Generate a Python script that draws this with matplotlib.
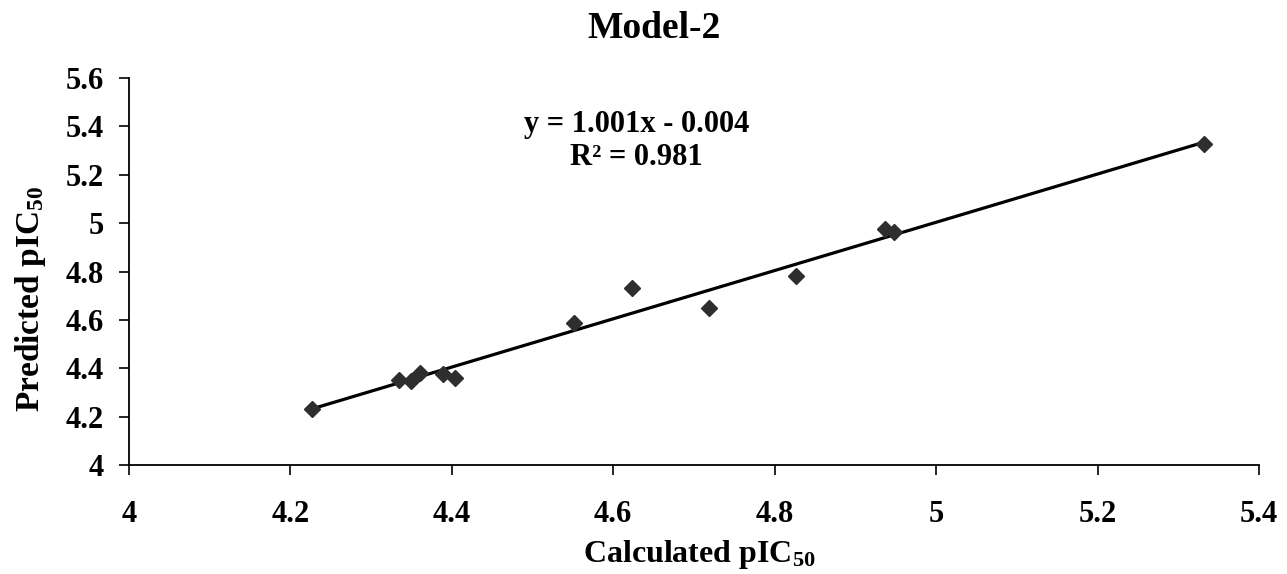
import numpy as np
import matplotlib
matplotlib.use('Agg')
import matplotlib.pyplot as plt

# values
calculated = [4.227, 4.334, 4.350, 4.360, 4.389, 4.404, 4.552, 4.623, 4.719, 4.826, 4.937, 4.948, 5.332]
predicted = [4.230, 4.351, 4.348, 4.379, 4.376, 4.358, 4.588, 4.733, 4.648, 4.783, 4.974, 4.962, 5.327]
x_ticks = [4, 4.2, 4.4, 4.6, 4.8, 5, 5.2, 5.4]
y_ticks = [4, 4.2, 4.4, 4.6, 4.8, 5, 5.2, 5.4, 5.6]
x_ticklabels = ['4', '4.2', '4.4', '4.6', '4.8', '5', '5.2', '5.4']
y_ticklabels = ['4', '4.2', '4.4', '4.6', '4.8', '5', '5.2', '5.4', '5.6']
equation_text = 'y = 1.001x - 0.004\nR² = 0.981'

plt.rcParams['font.family'] = ['Liberation Serif', 'DejaVu Serif']
plt.rcParams['font.weight'] = 'bold'
plt.rcParams['mathtext.fontset'] = 'custom'
plt.rcParams['mathtext.rm'] = 'Liberation Serif:bold'
plt.rcParams['mathtext.it'] = 'Liberation Serif:bold'
plt.rcParams['mathtext.bf'] = 'Liberation Serif:bold'

fig = plt.figure(figsize=(12.87, 5.74), dpi=100)
ax = fig.add_axes([0.1002, 0.190, 0.878, 0.674])

# trend line over the data range
coef = np.polyfit(calculated, predicted, 1)
xs = np.array([min(calculated), max(calculated)])
ax.plot(xs, np.polyval(coef, xs), color='black', lw=2.3, zorder=2)

ax.plot(calculated, predicted, linestyle='none', marker='D', markersize=8.5,
        color='#2e2e2e', zorder=3)

ax.set_xlim(4, 5.4)
ax.set_ylim(4, 5.6)
ax.set_xticks(x_ticks)
ax.set_xticklabels(x_ticklabels)
ax.set_yticks(y_ticks)
ax.set_yticklabels(y_ticklabels)
ax.tick_params(axis='both', direction='out', length=7, width=1.2, labelsize=22, colors='black')
ax.tick_params(axis='x', pad=18)
ax.tick_params(axis='y', pad=11)
for lab in ax.get_xticklabels() + ax.get_yticklabels():
	lab.set_fontweight('bold')

ax.spines['top'].set_visible(False)
ax.spines['right'].set_visible(False)
ax.spines['left'].set_linewidth(1.3)
ax.spines['bottom'].set_linewidth(1.3)

fig.text(654 / 1287, 1 - 28 / 574, 'Model-2', ha='center', va='center',
         fontsize=27, fontweight='bold')
ax.set_xlabel(r'Calculated pIC$_{50}$', fontsize=23, fontweight='bold', va='center')
ax.xaxis.set_label_coords(0.505, -0.232)
ax.set_ylabel(r'Predicted pIC$_{50}$', fontsize=24, fontweight='bold', va='center')
ax.yaxis.set_label_coords(-0.087, 0.43)

ax.text(4.629, 5.34, equation_text, ha='center', va='center', fontsize=22,
        fontweight='bold', linespacing=1.15)

fig.savefig('out.png', dpi=100)
